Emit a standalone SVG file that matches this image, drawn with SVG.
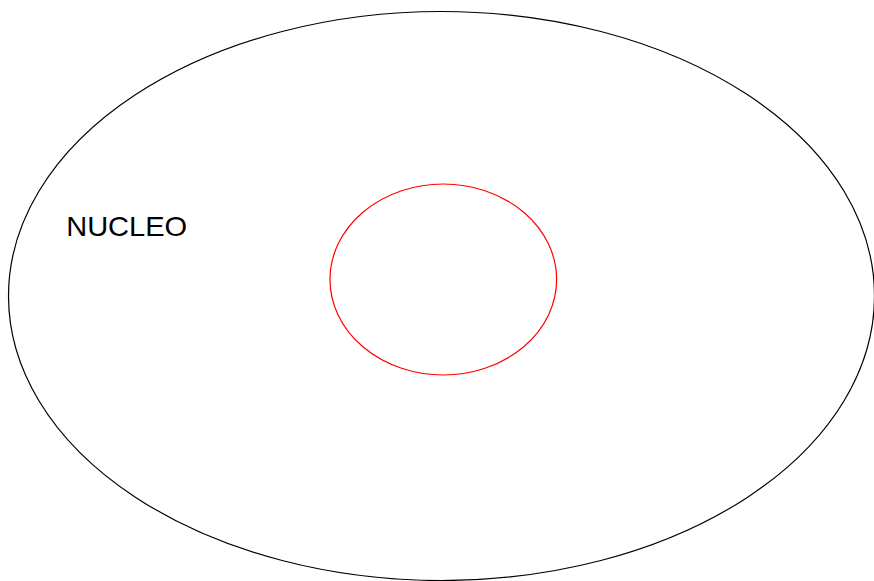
<svg xmlns="http://www.w3.org/2000/svg" width="874" height="581" viewBox="0 0 874 581">
<style>
.outer{fill:none;stroke:#000;stroke-width:1.2}
.inner{fill:none;stroke:#ff0000;stroke-width:1.2}
.label{font-family:"Liberation Sans",Arial,sans-serif;font-size:28px;fill:#000}
</style>
<rect width="874" height="581" fill="#fff"/>
<g id="nucleo">
<ellipse class="outer" cx="441.5" cy="296" rx="433" ry="284.5"/>
<text class="label" x="66.2" y="235.5" textLength="121" lengthAdjust="spacingAndGlyphs">NUCLEO</text>
</g>
<g id="inner">
<ellipse class="inner" cx="443.3" cy="279.5" rx="113.3" ry="95.5"/>
</g>
<g id="connectors"></g>
</svg>
